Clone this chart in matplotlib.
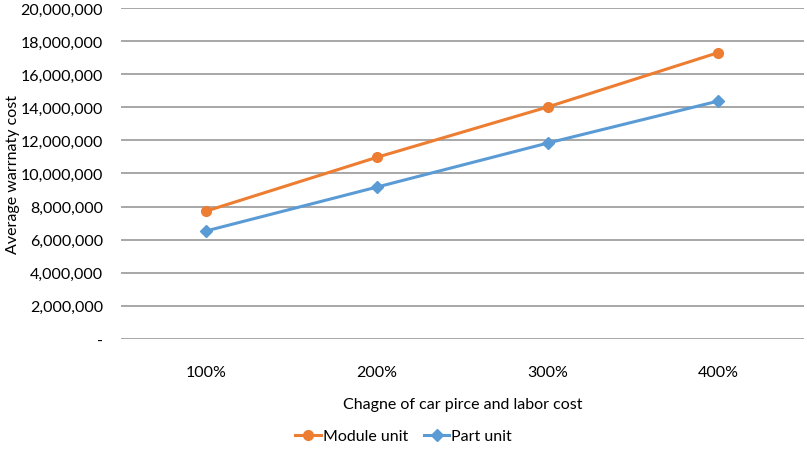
import matplotlib
matplotlib.use("Agg")
import matplotlib.pyplot as plt
from matplotlib.ticker import FuncFormatter

categories = ["100%", "200%", "300%", "400%"]
module_unit = [7730000, 10980000, 14020000, 17310000]
part_unit = [6530000, 9180000, 11840000, 14380000]

plt.rcParams['font.family'] = ['Lato', 'DejaVu Sans']

fig = plt.figure(figsize=(8.07, 4.52), dpi=100)
ax = fig.add_axes([0.150, 0.248, 0.846, 0.732])

x = list(range(len(categories)))
ax.plot(x, module_unit, color="#ED7D31", lw=2.2, marker="o", ms=7, label="Module unit", zorder=3)
ax.plot(x, part_unit, color="#5B9BD5", lw=2.2, marker="D", ms=6, label="Part unit", zorder=3)

ax.set_xlim(-0.5, 3.5)
ax.set_ylim(0, 20000000)
ax.set_yticks(range(0, 20000001, 2000000))
ax.yaxis.set_major_formatter(FuncFormatter(lambda v, p: "-" if v == 0 else f"{int(v):,}"))
ax.set_xticks(x)
ax.set_xticklabels(categories)
ax.grid(axis="y", color="#a0a0a0", lw=1.3)
ax.set_axisbelow(True)
for s in ax.spines.values():
    s.set_visible(False)
ax.tick_params(axis="both", length=0, labelsize=11.5, colors="#000000")
ax.tick_params(axis="x", pad=19)
ax.tick_params(axis="y", pad=13)
ax.set_xlabel("Chagne of car pirce and labor cost", fontsize=11.5, labelpad=13)
ax.set_ylabel("Average warrnaty cost", fontsize=11.5)
ax.yaxis.set_label_coords(-0.148, 0.5)

fig.legend(loc="center", bbox_to_anchor=(0.5, 0.033), ncol=2, frameon=False, fontsize=11.5,
           handlelength=1.6, columnspacing=1.0, handletextpad=0.1)

fig.savefig("out.png", dpi=100)
